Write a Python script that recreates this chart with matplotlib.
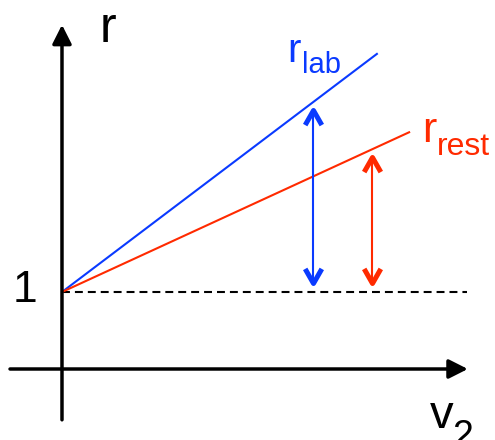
import matplotlib
matplotlib.use("Agg")
import matplotlib.pyplot as plt
from matplotlib.path import Path

plt.rcParams['font.family'] = ['Liberation Sans', 'DejaVu Sans']

BLUE = '#0A3AFF'
RED = '#FF2A00'

# schematic: r vs v2, both lines start at r = 1
x_axis = [-0.675, 5.27]
y_axis = [-0.66, 4.47]
dash_x = [0, 5.26]
dash_y = [1, 1]
lab_x = [0, 4.10]
lab_y = [1, 4.10]
rest_x = [0, 4.52]
rest_y = [1, 3.08]
# double arrows (x, bottom, top)
lab_arrow = (3.26, 1.12, 3.36)
rest_arrow = (4.03, 1.12, 2.75)

fig = plt.figure(figsize=(4.95, 4.4), dpi=100)
ax = fig.add_axes([0, 0, 1, 1])
ax.set_xlim(-0.805, 5.623)
ax.set_ylim(-0.922, 4.792)
ax.axis('off')

# axes with filled arrow heads
ax.annotate('', xy=(x_axis[1], 0), xytext=(x_axis[0], 0),
            arrowprops=dict(arrowstyle='-|>,head_length=1.15,head_width=0.58',
                            lw=2.5, color='black', shrinkA=0, shrinkB=0,
                            mutation_scale=10))
ax.annotate('', xy=(0, y_axis[1]), xytext=(0, y_axis[0]),
            arrowprops=dict(arrowstyle='-|>,head_length=1.15,head_width=0.58',
                            lw=2.5, color='black', shrinkA=0, shrinkB=0,
                            mutation_scale=10))

ax.plot(dash_x, dash_y, color='black', lw=1.5, ls=(0, (3.8, 2.4)))
ax.plot(lab_x, lab_y, color=BLUE, lw=1.5, solid_capstyle='butt')
ax.plot(rest_x, rest_y, color=RED, lw=1.5, solid_capstyle='butt')

# open V heads
up = Path([(-0.57, -1), (0, 0), (0.57, -1)], [Path.MOVETO, Path.LINETO, Path.LINETO])
down = Path([(-0.57, 1), (0, 0), (0.57, 1)], [Path.MOVETO, Path.LINETO, Path.LINETO])

for (x, y0, y1), c in [(lab_arrow, BLUE), (rest_arrow, RED)]:
    ax.plot([x, x], [y0, y1], color=c, lw=1.5)
    ax.plot([x], [y1], marker=up, ms=21, mfc='none', mec=c, mew=3.6)
    ax.plot([x], [y0], marker=down, ms=21, mfc='none', mec=c, mew=3.6)

# labels
ax.text(0.494, 4.247, 'r', fontsize=36, ha='left', va='baseline')
ax.text(-0.481, 0.870, '1', fontsize=32, ha='center', va='baseline')
ax.text(2.922, 3.987, 'r', fontsize=29, color=BLUE, ha='left', va='baseline')
ax.text(3.117, 3.844, 'lab', fontsize=21, color=BLUE, ha='left', va='baseline')
ax.text(4.675, 2.948, 'r', fontsize=31, color=RED, ha='left', va='baseline')
ax.text(4.870, 2.779, 'rest', fontsize=23, color=RED, ha='left', va='baseline')
ax.text(4.779, -0.766, 'v', fontsize=34, ha='left', va='baseline')
ax.text(5.065, -1.01, '2', fontsize=27, ha='left', va='baseline')

fig.savefig('out.png', dpi=100)
